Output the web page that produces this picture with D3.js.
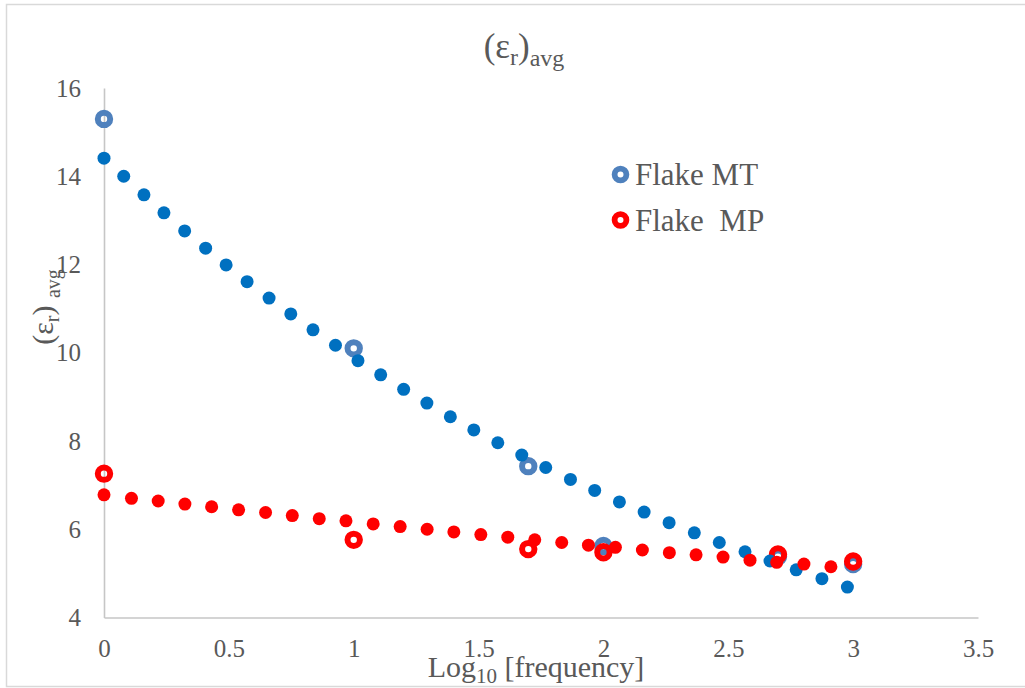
<!DOCTYPE html>
<html>
<head>
<meta charset="utf-8">
<script src="https://cdnjs.cloudflare.com/ajax/libs/d3/7.8.5/d3.min.js"></script>
<style>
  body { margin: 0; background: #fff; }
  text { font-family: "Liberation Serif", "DejaVu Serif", "Times New Roman", serif; fill: #595959; }
</style>
</head>
<body>
<svg id="chart" width="1025" height="688"></svg>
<script>

// filled series, no legend entry
var blueLogF = [0, 0.079, 0.16, 0.24, 0.323, 0.407, 0.489, 0.573, 0.661, 0.748, 0.837, 0.927, 1.017, 1.108, 1.2, 1.293, 1.387,
                1.481, 1.577, 1.673, 1.769, 1.868, 1.965, 2.064, 2.163, 2.263, 2.364, 2.464, 2.567, 2.667, 2.772, 2.875, 2.977];
var blueEps  = [14.41, 14.0, 13.58, 13.17, 12.76, 12.37, 11.99, 11.61, 11.24, 10.88, 10.52, 10.17, 9.82, 9.50, 9.17, 8.86, 8.55,
                8.25, 7.96, 7.68, 7.40, 7.13, 6.88, 6.62, 6.39, 6.15, 5.92, 5.70, 5.49, 5.28, 5.08, 4.88, 4.69];
var redLogF  = [0, 0.11, 0.217, 0.324, 0.431, 0.539, 0.647, 0.754, 0.862, 0.969, 1.078, 1.186, 1.294, 1.401, 1.509, 1.617,
                1.725, 1.833, 1.94, 2.048, 2.156, 2.264, 2.371, 2.479, 2.587, 2.694, 2.803, 2.911];
var redEps   = [6.78, 6.70, 6.64, 6.57, 6.51, 6.44, 6.38, 6.31, 6.24, 6.19, 6.12, 6.06, 6.00, 5.94, 5.88, 5.82,
                5.76, 5.70, 5.64, 5.59, 5.53, 5.47, 5.42, 5.37, 5.30, 5.25, 5.21, 5.15];

// measured flakes
var flakeLogF = [0, 1, 1.699, 2, 2.699, 3];
var mtEps     = [15.3, 10.1, 7.43, 5.62, 5.38, 5.21];
var mpEps     = [7.26, 5.76, 5.55, 5.48, 5.43, 5.27];

var xTicks = [0, 0.5, 1, 1.5, 2, 2.5, 3, 3.5];
var yTicks = [4, 6, 8, 10, 12, 14, 16];
var legendNames = ["Flake MT", "Flake  MP"];

var svg = d3.select("#chart");

var x = d3.scaleLinear().domain([0, 3.5]).range([104, 978]);
var y = d3.scaleLinear().domain([4, 16]).range([617.5, 88]);

// chart border
svg.append("rect")
    .attr("x", 6.5).attr("y", 4.5).attr("width", 1040).attr("height", 682)
    .style("fill", "none").style("stroke", "#d9d9d9").style("stroke-width", 1.5);

// axes
var xAxis = svg.append("g").attr("transform", "translate(0,617.5)")
    .call(d3.axisBottom(x).tickValues(xTicks).tickSize(0).tickPadding(22).tickFormat(d3.format("")));
var yAxis = svg.append("g").attr("transform", "translate(104,0)")
    .call(d3.axisLeft(y).tickValues(yTicks).tickSize(0).tickPadding(23));
[xAxis, yAxis].forEach(function(a){
    a.attr("font-family", null);
    a.select(".domain").style("stroke", "#c6c6c6").style("stroke-width", 1.6);
    a.selectAll("text").style("font-size", "25px").style("fill", "#595959");
});

function dots(xs, ys, color){
    svg.append("g").selectAll("circle").data(xs).enter().append("circle")
        .attr("cx", function(d){ return x(d); })
        .attr("cy", function(d, i){ return y(ys[i]); })
        .attr("r", 6.5)
        .style("fill", color);
}
function rings(xs, ys, color){
    svg.append("g").selectAll("circle").data(xs).enter().append("circle")
        .attr("cx", function(d){ return x(d); })
        .attr("cy", function(d, i){ return y(ys[i]); })
        .attr("r", 6.2)
        .style("fill", "none").style("stroke", color).style("stroke-width", 6);
}

rings(flakeLogF, mtEps, "#4f81bd");
rings(flakeLogF, mpEps, "#ff0000");
dots(blueLogF, blueEps, "#0070c0");
dots(redLogF, redEps, "#ff0000");

// title
var title = svg.append("text").attr("x", 524).attr("y", 58).attr("text-anchor", "middle").style("font-size", "35px");
title.append("tspan").text("(\u03b5");
title.append("tspan").attr("dy", 7).style("font-size", "24px").text("r");
title.append("tspan").attr("dy", -7).text(")");
title.append("tspan").attr("dy", 8).style("font-size", "24px").text("avg");

// y title
var ytitle = svg.append("text").attr("text-anchor", "middle").style("font-size", "30px")
    .attr("transform", "translate(53,307) rotate(-90)");
ytitle.append("tspan").text("(\u03b5");
ytitle.append("tspan").attr("dy", 6).style("font-size", "20px").text("r");
ytitle.append("tspan").attr("dy", -6).text(") ");
ytitle.append("tspan").attr("dy", 7).style("font-size", "20px").text("avg");

// x title
var xtitle = svg.append("text").attr("x", 536).attr("y", 677).attr("text-anchor", "middle").style("font-size", "30px");
xtitle.append("tspan").text("Log");
xtitle.append("tspan").attr("dy", 6).style("font-size", "21px").text("10");
xtitle.append("tspan").attr("dy", -6).style("white-space", "pre").text(" [frequency]");

// legend
var legColors = ["#4f81bd", "#ff0000"];
var leg = svg.append("g");
legendNames.forEach(function(name, i){
    leg.append("circle").attr("cx", 620.5).attr("cy", 174.5 + 45.5 * i).attr("r", 5.9)
        .style("fill", "none").style("stroke", legColors[i]).style("stroke-width", 5.8);
    leg.append("text").attr("x", 635).attr("y", 185 + 45.5 * i)
        .style("font-size", "31px").style("white-space", "pre").text(name);
});

</script>
</body>
</html>
